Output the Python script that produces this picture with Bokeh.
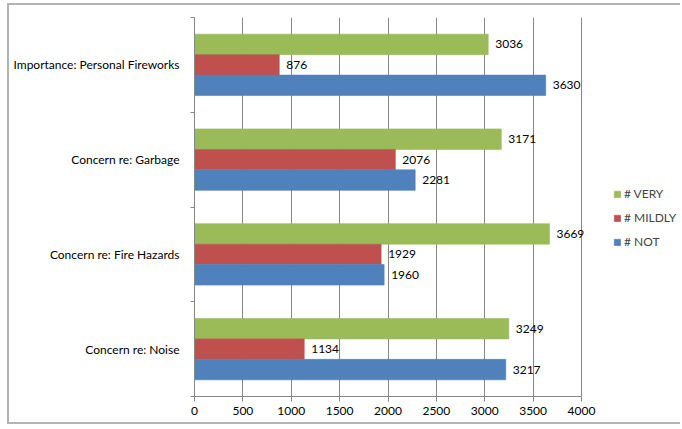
from bokeh.plotting import figure
from bokeh.models import (ColumnDataSource, FixedTicker, Legend, LegendItem, Range1d, LabelSet)
from bokeh.core.properties import value
from bokeh.embed import file_html
from bokeh.resources import INLINE

categories = ["Concern re: Noise", "Concern re: Fire Hazards", "Concern re: Garbage", "Importance: Personal Fireworks"]
very = [3249, 3669, 3171, 3036]
mildly = [1134, 1929, 2076, 876]
not_ = [3217, 1960, 2281, 3630]
series_names = ["# VERY", "# MILDLY", "# NOT"]
colors = ["#9BBB59", "#C0504D", "#4F81BD"]
x_ticks = [0, 500, 1000, 1500, 2000, 2500, 3000, 3500, 4000]

FONT = "Lato"
W, H = 673, 421
FL, FT, FB = 185, 12, 391
X4000 = 572          # pixel of the 4000 tick
FR = W - 1           # frame spans to the right edge (room for legend)
x_end = 4000 * (FR - FL) / (X4000 - FL)

p = figure(width=W, height=H, output_backend="svg", toolbar_location=None,
           x_range=Range1d(0, x_end), y_range=Range1d(0, 4),
           min_border_left=FL, min_border_right=W - FR, min_border_top=FT,
           min_border_bottom=H - FB)
p.styles = {"border-top": "2px solid #b4b4b4", "border-left": "2px solid #b4b4b4",
            "border-bottom": "2px solid #b4b4b4", "margin-left": "7px", "margin-top": "3px"}
p.outline_line_color = None
p.background_fill_color = "white"

bar_h = 0.216
offsets = [bar_h, 0.0, -bar_h]
renderers = []
for vals, off, col, name in zip([very, mildly, not_], offsets, colors, series_names):
    ys = [i + 0.5 + off for i in range(len(categories))]
    src = ColumnDataSource(dict(y=ys, right=vals, lab=[str(v) for v in vals]))
    r = p.hbar(y="y", left=0, right="right", height=bar_h, source=src,
               fill_color=col, line_color=col, line_alpha=0.6)
    renderers.append(r)
    p.add_layout(LabelSet(x="right", y="y", text="lab", source=src, x_offset=7,
                          text_baseline="middle", text_align="left", text_font=value(FONT),
                          text_font_size=value("12px"), text_color="black"))

# x axis
xa = p.xaxis[0]
xa.ticker = FixedTicker(ticks=x_ticks)
xa.bounds = (0, 4000)
xa.axis_line_color = "#868686"
xa.major_tick_line_color = "#868686"
xa.major_tick_out = 5
xa.major_tick_in = 0
xa.minor_tick_line_color = None
xa.major_label_text_font = FONT
xa.major_label_text_font_size = "12px"
xa.major_label_text_color = "black"
xa.major_label_standoff = 5

# y axis: labels at centers, ticks at boundaries
ya = p.yaxis[0]
centers = [i + 0.5 for i in range(len(categories))]
ya.ticker = FixedTicker(ticks=centers, minor_ticks=[0, 1, 2, 3, 4])
ya.major_label_overrides = {c: lab for c, lab in zip(centers, categories)}
ya.major_tick_line_color = None
ya.major_tick_out = 0
ya.minor_tick_line_color = "#868686"
ya.minor_tick_out = 4
ya.minor_tick_in = 0
ya.axis_line_color = "#868686"
ya.major_label_text_font = FONT
ya.major_label_text_font_size = "12px"
ya.major_label_text_color = "black"
ya.major_label_standoff = 11

p.xgrid.grid_line_color = "#868686"
p.xgrid.ticker = FixedTicker(ticks=x_ticks)
p.xgrid.bounds = (0, 4)
p.ygrid.grid_line_color = None

legend = Legend(items=[LegendItem(label=n, renderers=[r]) for n, r in zip(series_names, renderers)],
                location=(419, 147))
legend.border_line_color = None
legend.background_fill_alpha = 0
legend.label_text_font = FONT
legend.label_text_font_size = "12px"
legend.glyph_width = 8
legend.glyph_height = 8
legend.spacing = 9
legend.label_standoff = 3
legend.label_height = 14
legend.padding = 0
legend.margin = 0
p.add_layout(legend)

open("out.html", "w").write(file_html(p, INLINE))
